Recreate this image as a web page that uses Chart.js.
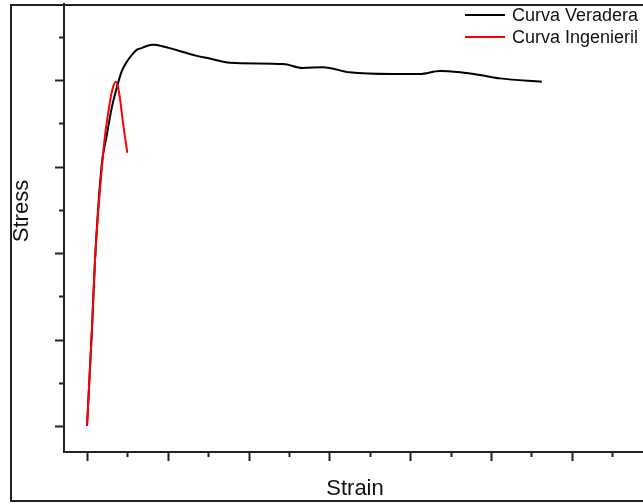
<!DOCTYPE html>
<html>
<head>
<meta charset="utf-8">
<script src="https://cdn.jsdelivr.net/npm/chart.js@4.4.1/dist/chart.umd.min.js"></script>
<style>
  html, body { margin: 0; padding: 0; background: #fff; overflow: hidden; }
  #wrap { position: relative; width: 643px; height: 504px; overflow: hidden; }
  canvas { position: absolute; left: 0; top: 0; }
</style>
</head>
<body>
<div id="wrap"><canvas id="chart" width="700" height="504"></canvas></div>
<script>
// values (strain, stress); no tick labels shown in the original
var strainTrue = [0, 0.0062, 0.0099, 0.0182, 0.0244, 0.0306, 0.0368, 0.0429, 0.0491, 0.0553, 0.0615,
    0.0677, 0.0739, 0.0817, 0.0866, 0.136, 0.152, 0.177, 0.243, 0.267, 0.292, 0.325,
    0.379, 0.412, 0.437, 0.462, 0.486, 0.511, 0.563];
var stressTrue = [0, 114, 192, 302, 336, 368, 391, 410, 421, 429, 435,
    437, 439.5, 441, 440.5, 428, 425, 420, 418.5, 414, 415, 409,
    407, 407, 410.5, 409, 406, 402, 398];

var strainEng = [0, 0.0062, 0.0099, 0.0189, 0.0223, 0.0264, 0.0306, 0.0355, 0.0381, 0.0408, 0.0449, 0.0499];
var stressEng = [0, 114, 192, 305, 336, 363, 386, 398, 393, 379, 348, 316];

var xTicks = [0, 0.05, 0.1, 0.15, 0.2, 0.25, 0.3, 0.35, 0.4, 0.45, 0.5, 0.55, 0.6, 0.65];
var yTicks = [0, 50, 100, 150, 200, 250, 300, 350, 400, 450];

function toPoints(xs, ys) {
    return xs.map(function (x, i) { return { x: x, y: ys[i] }; });
}

var axisColor = '#222';

// frame, tick marks, legend and y title
var decor = {
    id: 'decor',
    beforeDraw: function (chart) {
        var c = chart.ctx;
        c.save();
        c.strokeStyle = axisColor;
        c.lineWidth = 2;
        c.strokeRect(11, 5, 800, 496);
        c.restore();
    },
    afterDraw: function (chart) {
        var c = chart.ctx,
            area = chart.chartArea,
            xs = chart.scales.x,
            ys = chart.scales.y;
        c.save();
        c.strokeStyle = axisColor;
        c.lineWidth = 2;
        c.beginPath();
        xTicks.forEach(function (v, i) {
            var px = Math.round(xs.getPixelForValue(v)) + 0.5;
            var len = i % 2 === 0 ? 9 : 5;
            c.moveTo(px, area.bottom);
            c.lineTo(px, area.bottom + len);
        });
        yTicks.forEach(function (v, i) {
            var py = Math.round(ys.getPixelForValue(v)) + 0.5;
            var len = i % 2 === 0 ? 9 : 5;
            c.moveTo(area.left, py);
            c.lineTo(area.left - len, py);
        });
        c.stroke();

        // legend
        c.font = '18px "Liberation Sans", Arial, sans-serif';
        c.textBaseline = 'middle';
        c.fillStyle = '#111';
        chart.data.datasets.forEach(function (ds, i) {
            var y = 15 + i * 22;
            c.strokeStyle = ds.borderColor;
            c.lineWidth = 2;
            c.beginPath();
            c.moveTo(465, y);
            c.lineTo(505, y);
            c.stroke();
            c.fillText(ds.label, 512, y + 1);
        });

        // y axis title
        c.translate(22, 211);
        c.rotate(-Math.PI / 2);
        c.textAlign = 'center';
        c.font = '22px "Liberation Sans", Arial, sans-serif';
        c.fillText('Stress', 0, 0);
        c.restore();
    }
};

var ctx = document.getElementById('chart');
var myChart = new Chart(ctx, {
    type: 'line',
    data: {
        datasets: [{
                label: 'Curva Veradera',
                data: toPoints(strainTrue, stressTrue),
                borderColor: '#000000',
                borderWidth: 2,
                pointRadius: 0,
                cubicInterpolationMode: 'monotone',
                fill: false,
                order: 2
            },
            {
                label: 'Curva Ingenieril',
                data: toPoints(strainEng, stressEng),
                borderColor: '#ff0000',
                borderWidth: 2,
                pointRadius: 0,
                cubicInterpolationMode: 'monotone',
                fill: false,
                order: 1
            }
        ]
    },
    options: {
        responsive: false,
        animation: false,
        layout: {
            padding: { top: 4, right: 54, left: 0, bottom: 0 }
        },
        plugins: {
            legend: { display: false },
            tooltip: { enabled: false }
        },
        scales: {
            x: {
                type: 'linear',
                min: -0.0285,
                max: 0.692,
                afterFit: function (s) { s.height = 52; },
                grid: { display: false },
                border: { display: true, color: axisColor, width: 2 },
                ticks: { display: false },
                title: {
                    display: true,
                    text: 'Strain',
                    color: '#111',
                    font: { family: '"Liberation Sans", Arial, sans-serif', size: 22 },
                    padding: { top: 0, bottom: 2 }
                }
            },
            y: {
                type: 'linear',
                min: -30,
                max: 488,
                afterFit: function (s) { s.width = 64; },
                grid: { display: false },
                border: { display: true, color: axisColor, width: 2 },
                ticks: { display: false }
            }
        }
    },
    plugins: [decor]
});
</script>
</body>
</html>
